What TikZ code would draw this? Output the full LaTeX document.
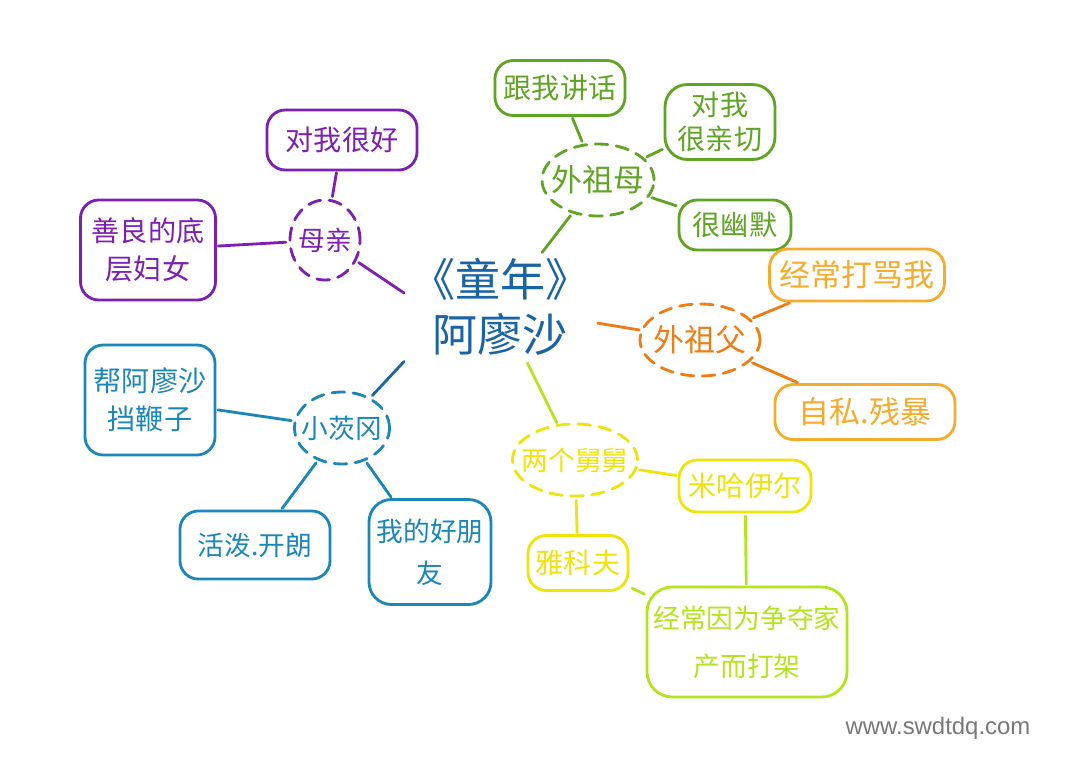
\documentclass[tikz,border=0pt]{standalone}
\usepackage{fontspec}
\setmainfont{Liberation Sans}
\newfontfamily\cjk{Noto Sans CJK SC}
\usetikzlibrary{shapes.geometric}
\definecolor{momPurple}{RGB}{125,30,180}
\definecolor{granGreen}{RGB}{95,165,35}
\definecolor{grampOrange}{RGB}{240,125,20}
\definecolor{grampLeaf}{RGB}{245,172,45}
\definecolor{uncleYellow}{RGB}{238,228,10}
\definecolor{uncleLime}{RGB}{180,228,30}
\definecolor{heroBlue}{RGB}{25,100,165}
\definecolor{gypsyBlue}{RGB}{25,135,185}
\definecolor{markGray}{RGB}{120,120,120}
\tikzset{
  leafbox/.style={draw, rounded corners=13pt, line width=2pt, align=center, inner sep=2pt,
    font=\cjk\fontsize{20}{27}\selectfont},
  hubnode/.style={draw, ellipse, dash pattern=on 9pt off 6pt, line width=2pt, inner xsep=-12pt, inner ysep=0pt,
    font=\cjk\fontsize{19}{22}\selectfont},
  link/.style={line width=2pt, line cap=round, shorten <=2pt, shorten >=1pt},
}
\begin{document}
\begin{tikzpicture}[x=0.025cm, y=-0.025cm, line join=round, line cap=round]
  \useasboundingbox[fill=white] (0,0) rectangle (1080,772);
  % centre
  \node[heroBlue, align=center, font=\cjk\fontsize{32}{39}\selectfont] (alyosha) at (500,307) {《童年》\\阿廖沙};
  % mother
  \node[hubnode, momPurple, minimum width=1.75cm, minimum height=2cm] (mom) at (325,240) {母亲};
  \node[leafbox, momPurple, minimum width=3.75cm, minimum height=1.5cm] (momKind) at (342,140) {对我很好};
  \node[leafbox, momPurple, minimum width=3.375cm, minimum height=2.5cm] (momGood) at (148,250) {善良的底\\层妇女};
  % grandmother
  \node[hubnode, granGreen, minimum width=2.8cm, minimum height=1.8cm, font=\cjk\fontsize{22}{24}\selectfont] (gran) at (598,180) {外祖母};
  \node[leafbox, granGreen, minimum width=3.25cm, minimum height=1.375cm] (granTalk) at (560,88) {跟我讲话};
  \node[leafbox, granGreen, minimum width=2.75cm, minimum height=1.875cm, rounded corners=16pt, font=\cjk\fontsize{20}{24}\selectfont] (granWarm) at (720,122) {对我\\很亲切};
  \node[leafbox, granGreen, minimum width=2.8cm, minimum height=1.25cm] (granFun) at (735,225) {很幽默};
  % grandfather
  \node[hubnode, grampOrange, minimum width=3cm, minimum height=1.8cm, font=\cjk\fontsize{22}{24}\selectfont] (gramp) at (700,340) {外祖父};
  \node[leafbox, grampLeaf, minimum width=4.375cm, minimum height=1.3cm, font=\cjk\fontsize{22}{26}\selectfont] (grampBeat) at (857,275) {经常打骂我};
  \node[leafbox, grampLeaf, minimum width=4.5cm, minimum height=1.375cm, font=\cjk\fontsize{22}{26}\selectfont] (grampMean) at (865,412) {自私.残暴};
  % uncles
  \node[hubnode, uncleYellow, minimum width=3.125cm, minimum height=1.8cm] (uncles) at (575,460) {两个舅舅};
  \node[leafbox, uncleYellow, minimum width=3.3cm, minimum height=1.3cm] (mikhail) at (745,486) {米哈伊尔};
  \node[leafbox, uncleYellow, minimum width=2.5cm, minimum height=1.375cm] (yakov) at (578,563) {雅科夫};
  \node[leafbox, uncleLime, minimum width=5cm, minimum height=2.75cm, rounded corners=18pt, font=\cjk\fontsize{19}{34}\selectfont] (fight) at (747,642) {经常因为争夺家\\产而打架};
  % gypsy
  \node[hubnode, gypsyBlue, minimum width=2.375cm, minimum height=1.8cm] (gypsy) at (342,428) {小茨冈};
  \node[leafbox, gypsyBlue, minimum width=3.25cm, minimum height=2.75cm] (gypsyWhip) at (150,400) {帮阿廖沙\\挡鞭子};
  \node[leafbox, gypsyBlue, minimum width=3.75cm, minimum height=1.7cm, font=\cjk\fontsize{19}{24}\selectfont] (gypsyJoy) at (255,545) {活泼.开朗};
  \node[leafbox, gypsyBlue, minimum width=3.05cm, minimum height=2.625cm, rounded corners=16pt, font=\cjk\fontsize{19}{30}\selectfont] (gypsyPal) at (430,552) {我的好朋\\友};
  % connectors
  \foreach \a/\b/\c in {mom/alyosha.172/momPurple, mom/momKind/momPurple, mom/momGood/momPurple,
      gran/alyosha/granGreen, gran/granTalk/granGreen, gran/granWarm/granGreen, gran/granFun/granGreen,
      alyosha/gramp/grampOrange, gramp/grampBeat/grampOrange, gramp/grampMean/grampOrange,
      alyosha/uncles/uncleLime, uncles/mikhail/uncleYellow, uncles/yakov/uncleYellow,
      yakov/fight/uncleLime, mikhail/fight/uncleLime,
      gypsy/alyosha.south west/heroBlue, gypsy/gypsyWhip/gypsyBlue, gypsy/gypsyJoy/gypsyBlue, gypsy/gypsyPal/gypsyBlue}
    \draw[link, \c] (\a) -- (\b);
  % watermark
  \node[markGray, font=\fontsize{17}{20}\selectfont] (mark) at (938,728) {www.swdtdq.com};
\end{tikzpicture}
\end{document}
